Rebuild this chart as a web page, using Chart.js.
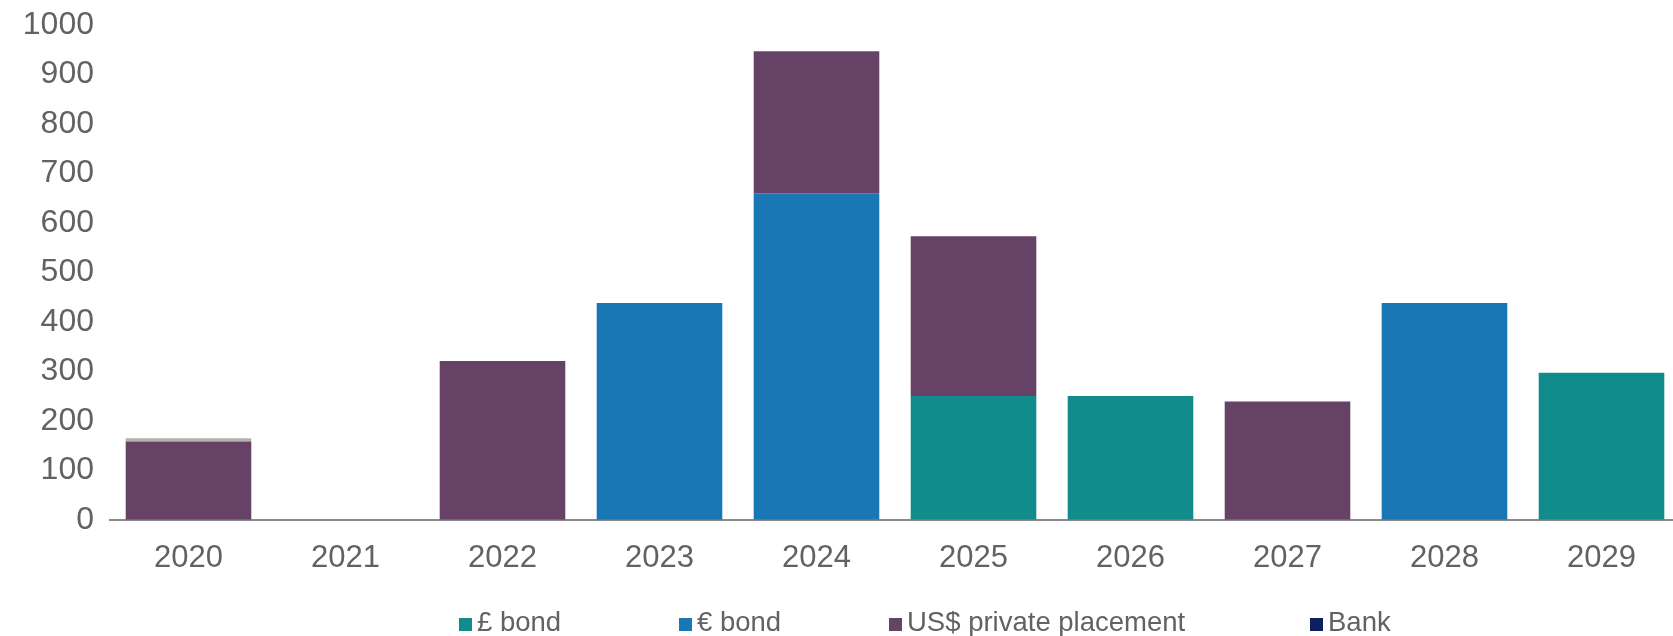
<!DOCTYPE html>
<html>
<head>
<meta charset="utf-8">
<script src="https://cdn.jsdelivr.net/npm/chart.js@4"></script>
<style>
  html, body { margin: 0; padding: 0; background: #fff; overflow: hidden; }
  #wrap { width: 1680px; height: 636px; }
</style>
</head>
<body>
<div id="wrap"><canvas id="maturityChart"></canvas></div>
<script>
const years = ['2020', '2021', '2022', '2023', '2024', '2025', '2026', '2027', '2028', '2029'];
const gbpBond = [0, 0, 0, 0, 0, 250, 250, 0, 0, 297];
const eurBond = [0, 0, 0, 438, 660, 0, 0, 0, 438, 0];
const usdPrivatePlacement = [158, 0, 321, 0, 287, 323, 0, 239, 0, 0];
const bank = [0, 0, 0, 0, 0, 0, 0, 0, 0, 0];
const other = [7, 0, 0, 0, 0, 0, 0, 0, 0, 0];
const yTicks = [0, 100, 200, 300, 400, 500, 600, 700, 800, 900, 1000];

const textGrey = '#626262';
const fontFamily = 'Arial, "Liberation Sans", sans-serif';

// legend drawn by hand so the wide gaps between items don't push the plot up
const legendLefts = [459, 679, 889, 1310];
const bottomLegend = {
    id: 'bottomLegend',
    afterDraw(chart) {
        const c = chart.ctx;
        const items = chart.data.datasets.filter(d => d.label !== 'Other');
        const box = 13, gapText = 5, base = 631;
        c.save();
        c.font = '27.5px ' + fontFamily;
        c.textBaseline = 'alphabetic';
        items.forEach((d, i) => {
            const x = legendLefts[i];
            c.fillStyle = d.backgroundColor;
            c.fillRect(x, base - box, box, box);
            c.fillStyle = textGrey;
            c.fillText(d.label, x + box + gapText, base);
        });
        c.restore();
    }
};

const ctx = document.getElementById('maturityChart').getContext('2d');
new Chart(ctx, {
    type: 'bar',
    data: {
        labels: years,
        datasets: [
            { label: '£ bond', data: gbpBond, backgroundColor: '#118B8C' },
            { label: '€ bond', data: eurBond, backgroundColor: '#1877B4' },
            { label: 'US$ private placement', data: usdPrivatePlacement, backgroundColor: '#664366' },
            { label: 'Bank', data: bank, backgroundColor: '#0D1F5E' },
            { label: 'Other', data: other, backgroundColor: '#B4B0AE' }
        ]
    },
    options: {
        responsive: true,
        maintainAspectRatio: false,
        animation: false,
        layout: { padding: { top: 25, right: 0, left: 0, bottom: 39 } },
        datasets: {
            bar: { categoryPercentage: 0.8, barPercentage: 1.0 }
        },
        plugins: {
            tooltip: { enabled: false },
            legend: { display: false }
        },
        scales: {
            x: {
                stacked: true,
                grid: { display: false, drawTicks: false },
                border: { color: '#8a8a8a', width: 2 },
                ticks: {
                    color: textGrey,
                    padding: 20,
                    font: { family: fontFamily, size: 31 }
                }
            },
            y: {
                stacked: true,
                min: 0,
                max: 1000,
                afterBuildTicks: axis => { axis.ticks = yTicks.map(v => ({ value: v })); },
                afterFit: axis => {
                    axis.width = 110;
                    axis.paddingTop = 0;
                    axis.paddingBottom = 0;
                },
                grid: { display: false, drawTicks: false },
                border: { display: false },
                ticks: {
                    color: textGrey,
                    padding: 16,
                    callback: v => String(v),
                    font: { family: fontFamily, size: 32 }
                }
            }
        }
    },
    plugins: [bottomLegend]
});
</script>
</body>
</html>
